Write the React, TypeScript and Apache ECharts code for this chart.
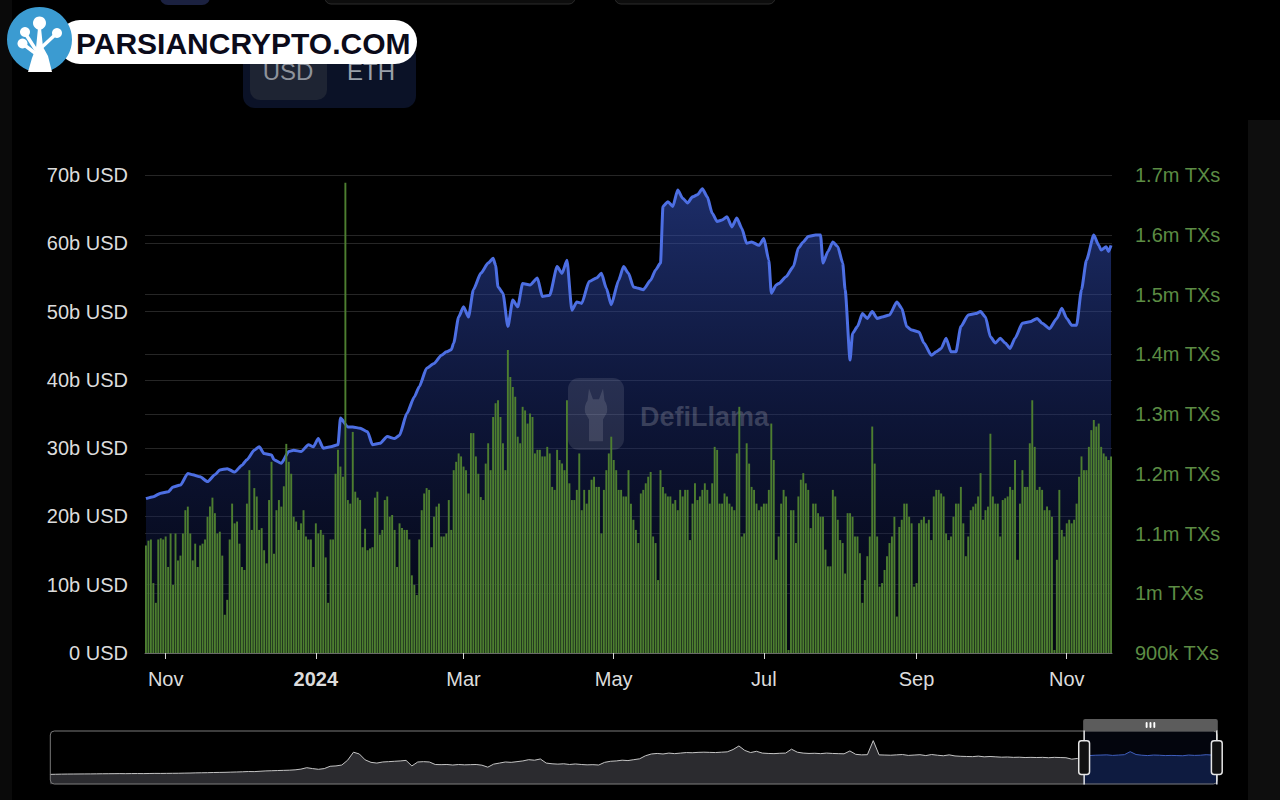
import React, { useEffect, useRef } from 'react';
import * as echarts from 'echarts';

// ---------- DATA ----------
// Daily Ethereum transactions (thousands), starting 2023-10-24, one per day
const txStart = [2023, 9, 24];
const txDailyK = [
  1080,1088,1090,1017,984,1090,1092,1090,1095,1044,
  1100,1014,1100,1055,1063,1100,1139,1145,1100,1055,
  1083,1044,1080,1083,1090,1128,1145,1160,1134,1100,
  1103,1063,964,989,1090,1150,1117,1120,1083,1044,
  1039,1150,1206,1106,1176,1162,1106,1109,1072,1050,
  1156,1220,1066,1139,1156,1145,1179,1250,1220,1200,
  1128,1120,1106,1117,1139,1095,1090,1090,1044,1117,
  1100,1106,1098,1060,984,1090,1090,1200,1240,1212,
  1195,1687,1156,1150,1270,1170,1160,1156,1077,1108,
  1072,1075,1077,1160,1170,1098,1106,1156,1162,1128,
  1131,1106,1044,1117,1109,1106,1106,1090,1030,1014,
  997,1090,1139,1167,1176,1173,1077,1128,1145,1150,
  1095,1095,1100,1156,1106,1206,1220,1234,1229,1212,
  1206,1167,1268,1268,1229,1200,1161,1156,1217,1251,
  1206,1295,1318,1323,1295,1251,1206,1407,1362,1345,
  1329,1262,1251,1312,1306,1284,1301,1295,1234,1240,
  1240,1229,1229,1245,1234,1178,1173,1240,1223,1217,
  1206,1323,1184,1156,1156,1173,1234,1139,1173,1150,
  1173,1190,1195,1178,1178,1100,1173,1206,1234,1262,
  1223,1206,1173,1173,1162,1162,1206,1150,1123,1106,
  1084,1167,1173,1184,1195,1203,1095,1084,1022,1206,
  1178,1167,1162,1162,1150,1156,1139,1173,1162,1173,
  1173,1089,1150,1184,1156,1162,1173,1184,1173,1150,
  1184,1245,1240,1150,1150,1167,1162,1150,1145,1139,
  1234,1312,1095,1100,1251,1217,1178,1173,1150,1139,
  1145,1150,1150,1173,1284,1223,1056,1095,1150,1173,
  1162,905,1139,1139,1084,1162,1190,1201,1184,1173,
  1109,1150,1150,1134,1128,1128,1073,1045,1045,1173,
  1162,1123,1089,1084,1033,1134,1134,1128,1095,1095,
  1067,984,1022,1062,1095,1279,1217,1095,1011,1017,
  1039,1062,1084,1095,1128,961,1111,1123,1150,1150,
  1128,1117,1011,1017,1117,1123,1128,1117,1123,1089,
  1162,1173,1173,1167,1162,1100,1089,1095,1128,1150,
  1150,1178,1117,1062,1095,1139,1145,1150,1162,1201,
  1123,1139,1145,1267,1162,1150,1150,1095,1156,1159,
  1162,1178,1173,1223,1056,1150,1206,1178,1178,1251,
  1323,1245,1173,1178,1173,1139,1145,1139,1128,905,
  1056,1173,1106,1095,1117,1123,1117,1123,1150,1195,
  1229,1206,1206,1245,1273,1290,1279,1284,1245,1234,
  1229,1223,1229
];

// TVL (billions USD) at day offsets from 2023-10-24
const tvlDayOffsets = [
  0,3,6,9,11,14,17,19,22,25,28,30,33,36,39,41,44,46,48,51,52,55,58,60,63,66,68,70,72,75,78,79,82,84,87,90,92,95,98,101,
  103,106,109,111,114,117,120,122,124,125,127,129,131,133,136,139,141,142,143,145,147,149,151,153,156,159,161,164,167,169,
  171,173,175,177,180,183,185,187,189,192,194,196,198,200,202,205,207,209,210,212,214,216,218,220,222,224,226,228,230,232,
  234,236,238,240,242,244,246,249,251,253,254,256,257,260,263,265,267,269,272,274,275,277,279,281,283,284,286,287,289,291,
  293,295,297,299,302,305,307,309,311,314,316,319,321,323,325,327,329,331,334,337,339,341,343,345,347,349,351,353,356,359,
  362,364,367,370,372,374,376,378,380,382,385,387,388,390,391,392
];
const tvlValuesB = [
  22.6,22.9,23.4,23.6,24.3,24.6,26.3,26.1,25.8,25.1,26.1,26.8,27.0,26.5,27.5,28.3,29.7,30.2,29.2,29.0,28.3,27.8,29.5,29.7,29.5,30.5,30.2,31.4,30.0,30.2,30.5,34.4,33.1,33.1,32.9,32.4,30.5,30.7,31.7,31.4,
  31.9,35.1,37.5,39.0,41.7,42.4,43.6,44.1,44.4,45.4,49.2,50.7,49.2,53.2,55.6,57.1,57.8,56.8,53.6,52.7,47.8,51.7,50.7,54.1,53.9,54.9,52.2,52.4,56.6,55.6,
  57.5,50.2,51.4,51.2,54.4,54.9,55.6,53.4,51.0,54.6,56.6,55.6,53.6,53.4,53.2,54.6,56.1,57.1,65.4,66.1,65.4,67.8,66.6,65.9,66.8,67.1,68.0,66.8,64.4,63.2,
  63.4,63.9,62.4,63.7,62.2,60.0,60.2,59.7,60.7,57.5,52.7,53.9,54.1,55.1,56.6,59.3,60.2,61.0,61.2,61.2,57.1,58.8,60.2,59.5,57.1,53.2,42.9,46.8,47.8,49.7,
  49.0,50.0,49.0,49.2,49.5,51.4,50.5,47.8,47.3,47.0,45.4,43.6,44.1,44.6,46.1,44.1,44.1,47.8,49.5,49.7,50.0,49.2,46.3,45.4,46.1,45.4,44.6,46.1,48.3,48.5,
  49.0,48.3,47.5,49.0,50.5,49.0,48.0,48.0,53.2,57.5,61.2,59.7,59.0,59.5,58.8,59.7
];

// Full transaction history (thousands), every 17 days from 2015-07-30 (slider overview)
const historyStart = [2015, 6, 30];
const historyStepDays = 17;
const historyTxK = [
  5,12,18,22,25,27,30,32,35,40,42,45,48,45,50,52,48,55,60,58,62,65,68,75,
  80,90,95,100,110,115,120,130,140,150,165,160,180,200,210,220,230,240,260,300,380,330,290,330,460,480,530,
  800,1250,1150,820,680,640,700,720,740,760,790,
  480,700,720,700,560,550,560,530,560,540,550,560,520,410,580,640,700,680,720,760,830,800,870,640,600,580,600,560,590,560,540,550,530,
  680,740,760,800,780,830,880,1050,1150,1180,1150,1200,1170,1200,1230,1220,1240,1250,1240,1230,1250,1270,
  1400,1600,1350,1230,1300,1200,1180,1170,1190,1200,1420,1250,1200,1180,1190,1170,1200,1180,1170,1160,1320,1130,1100,1110,
  1900,1100,1090,1080,1100,1120,1070,1090,1110,1060,1120,1080,1050,1100,1040,1020,1010,1000,1030,990,1010,990,970,980,960,970,950,960,950,960,940,960,950,940,860,900,
  1050,1060,1080,1090,1100,1070,1090,1110,1280,1120,1080,1060,1090,1080,1060,1070,1060,1050,1090,1070,1080,1110,1090,1100
];

const usdTicks = { min: 0, max: 70e9, interval: 10e9 };
const txTicks = { min: 900000, max: 1700000, interval: 100000 };

// ---------- HELPERS ----------
const dayTs = (base: number[], offset: number) =>
  new Date(base[0], base[1], base[2] + offset).getTime();

const fmtUsd = (v: number) => (v === 0 ? '0 USD' : `${+(v / 1e9).toFixed(2)}b USD`);
const fmtTx = (v: number) =>
  v >= 1e6 ? `${+(v / 1e6).toFixed(2)}m TXs` : `${+(v / 1e3).toFixed(0)}k TXs`;

echarts.graphic.registerShape(
  'llama',
  echarts.graphic.extendPath(
    'M8 2 L12 11 L18 11 L22 2 L23.5 12 Q27 16 26 22 L22 28 L22 46 L8 46 L8 28 L4 22 Q3 16 6.5 12 Z',
    {}
  )
);

const FONT = '"Liberation Sans", Arial, Helvetica, sans-serif';

export default function App() {
  const ref = useRef<HTMLDivElement>(null);

  useEffect(() => {
    if (!ref.current) return;
    const chart = echarts.init(ref.current, undefined, { renderer: 'svg' });

    const txData = txDailyK.map((v, i) => [dayTs(txStart, i), v * 1000]);
    const tvlData = tvlDayOffsets.map((d, i) => [dayTs(txStart, d), tvlValuesB[i] * 1e9]);
    const historyData = historyTxK.map((v, i) => [dayTs(historyStart, i * historyStepDays), v * 1000]);
    const startTs = dayTs(txStart, 0);
    const endTs = dayTs(txStart, txDailyK.length - 1);

    const option: any = {
      animation: false,
      backgroundColor: '#000',
      textStyle: { fontFamily: FONT },
      grid: { left: 145, right: 168, top: 175, bottom: 147, outerBoundsMode: 'none' },
      xAxis: {
        type: 'time',
        axisLine: { show: true, lineStyle: { color: '#6a6a6a', width: 1 } },
        axisTick: { show: true, length: 6, lineStyle: { color: '#d8d8d8' } },
        axisLabel: { color: '#dcdcdc', fontSize: 20, margin: 16, fontFamily: FONT },
        splitLine: { show: false },
      },
      yAxis: [
        {
          type: 'value',
          position: 'left',
          min: usdTicks.min,
          max: usdTicks.max,
          interval: usdTicks.interval,
          axisLine: { show: false },
          axisTick: { show: false },
          axisLabel: { formatter: fmtUsd, color: '#dcdcdc', fontSize: 20, margin: 17, fontFamily: FONT },
          splitLine: { lineStyle: { color: '#262626', width: 1 } },
        },
        {
          type: 'value',
          position: 'right',
          min: txTicks.min,
          max: txTicks.max,
          interval: txTicks.interval,
          axisLine: { show: false },
          axisTick: { show: false },
          axisLabel: { formatter: fmtTx, color: '#5c8c44', fontSize: 20, margin: 23, fontFamily: FONT },
          splitLine: { lineStyle: { color: '#262626', width: 1 } },
        },
        { type: 'value', show: false, min: 0 },
      ],
      dataZoom: [
        {
          type: 'slider',
          xAxisIndex: 0,
          filterMode: 'filter',
          startValue: startTs,
          endValue: endTs,
          left: 45,
          right: 67,
          top: 719,
          height: 54,
          backgroundColor: 'rgba(0,0,0,0)',
          borderColor: '#7a7a7a',
          borderRadius: 4,
          fillerColor: 'rgba(40,70,160,0.08)',
          showDetail: false,
          dataBackground: {
            lineStyle: { color: '#c4c4c4', width: 1, opacity: 1 },
            areaStyle: { color: '#2b2b2f', opacity: 1 },
          },
          selectedDataBackground: {
            lineStyle: { color: '#4262c0', width: 1, opacity: 1 },
            areaStyle: { color: '#0c1838', opacity: 1 },
          },
          handleIcon:
            'path://M-9.35,34.56V42m0-40V9.5m-2,0h4a2,2,0,0,1,2,2v21a2,2,0,0,1-2,2h-4a2,2,0,0,1-2-2v-21A2,2,0,0,1-11.35,9.5Z',
          handleSize: '100%',
          handleStyle: { color: '#111', borderColor: '#e6e6e6', borderWidth: 1.5 },
          moveHandleSize: 12,
          moveHandleStyle: { color: '#5c5c5c', opacity: 1 },
          emphasis: {
            handleStyle: { color: '#111', borderColor: '#e6e6e6' },
            moveHandleStyle: { color: '#5c5c5c', opacity: 1 },
          },
        },
      ],
      series: [
        {
          name: 'history',
          type: 'line',
          xAxisIndex: 0,
          yAxisIndex: 2,
          data: historyData,
          symbol: 'none',
          showSymbol: false,
          lineStyle: { opacity: 0, width: 0 },
          silent: true,
          z: 0,
        },
        {
          name: 'TVL',
          type: 'line',
          yAxisIndex: 0,
          data: tvlData,
          smooth: 0.2,
          smoothMonotone: 'x',
          symbol: 'none',
          showSymbol: false,
          lineStyle: { color: '#4d6fe3', width: 3 },
          areaStyle: {
            color: new echarts.graphic.LinearGradient(0, 0, 0, 1, [
              { offset: 0, color: 'rgba(52,82,190,0.78)' },
              { offset: 0.5, color: 'rgba(30,48,125,0.62)' },
              { offset: 1, color: 'rgba(10,16,48,0.55)' },
            ]),
          },
          z: 2,
        },
        {
          name: 'TXs',
          type: 'bar',
          yAxisIndex: 1,
          data: txData,
          barWidth: '78%',
          itemStyle: { color: '#4d7e30' },
          z: 4,
        },
      ],
      graphic: {
        elements: [
          // side strips
          { type: 'rect', shape: { x: 0, y: 0, width: 12, height: 800 }, style: { fill: '#0a0a0a' }, z: 0, silent: true },
          { type: 'rect', shape: { x: 1248, y: 120, width: 32, height: 680 }, style: { fill: '#0e0e0e' }, z: 0, silent: true },
          // top partial controls
          { type: 'rect', shape: { x: 160, y: -30, width: 50, height: 35, r: 8 }, style: { fill: '#1b2140' }, z: 50, silent: true },
          { type: 'rect', shape: { x: 325, y: -30, width: 250, height: 34, r: 6 }, style: { fill: '#0d0d0d', stroke: '#2c2c2c', lineWidth: 1 }, z: 50, silent: true },
          { type: 'rect', shape: { x: 615, y: -30, width: 160, height: 34, r: 6 }, style: { fill: '#0d0d0d', stroke: '#2c2c2c', lineWidth: 1 }, z: 50, silent: true },
          // USD / ETH toggle
          { type: 'rect', shape: { x: 243, y: 44, width: 173, height: 64, r: 12 }, style: { fill: '#0b1227' }, z: 50, silent: true },
          { type: 'rect', shape: { x: 250, y: 52, width: 77, height: 48, r: 10 }, style: { fill: '#1e2433' }, z: 51, silent: true },
          { type: 'text', x: 288, y: 71, style: { text: 'USD', fill: '#8e939c', font: `24px ${FONT}`, align: 'center', verticalAlign: 'middle' }, z: 52, silent: true },
          { type: 'text', x: 371, y: 71, style: { text: 'ETH', fill: '#9aa0aa', font: `24px ${FONT}`, align: 'center', verticalAlign: 'middle' }, z: 52, silent: true },
          // PARSIANCRYPTO pill
          { type: 'rect', shape: { x: 58, y: 20, width: 359, height: 44, r: 22 }, style: { fill: '#ffffff' }, z: 60, silent: true },
          { type: 'text', x: 76, y: 43, style: { text: 'PARSIANCRYPTO.COM', fill: '#0b0b1a', font: `bold 30px ${FONT}`, align: 'left', verticalAlign: 'middle' }, z: 61, silent: true },
          { type: 'circle', shape: { cx: 39.5, cy: 39.5, r: 32.5 }, style: { fill: '#3b9bd1' }, z: 62, silent: true },
          { type: 'polygon', shape: { points: [[28, 72], [32, 58], [36, 48], [38, 28], [41, 28], [43, 47], [48, 56], [52, 72]] }, style: { fill: '#ffffff' }, z: 63, silent: true },
          { type: 'line', shape: { x1: 36, y1: 50, x2: 25, y2: 33 }, style: { stroke: '#ffffff', lineWidth: 3.5 }, z: 63, silent: true },
          { type: 'line', shape: { x1: 35, y1: 53, x2: 23, y2: 44 }, style: { stroke: '#ffffff', lineWidth: 3.5 }, z: 63, silent: true },
          { type: 'line', shape: { x1: 42, y1: 47, x2: 57, y2: 33 }, style: { stroke: '#ffffff', lineWidth: 3.5 }, z: 63, silent: true },
          { type: 'circle', shape: { cx: 39.5, cy: 23, r: 6.5 }, style: { fill: '#ffffff' }, z: 63, silent: true },
          { type: 'circle', shape: { cx: 25, cy: 32, r: 5 }, style: { fill: '#ffffff' }, z: 63, silent: true },
          { type: 'circle', shape: { cx: 57, cy: 33, r: 5 }, style: { fill: '#ffffff' }, z: 63, silent: true },
          { type: 'circle', shape: { cx: 22.5, cy: 43.5, r: 5 }, style: { fill: '#ffffff' }, z: 63, silent: true },
          // DefiLlama watermark
          { type: 'rect', shape: { x: 568, y: 378, width: 56, height: 72, r: 11 }, style: { fill: 'rgba(255,255,255,0.10)' }, z: 3, silent: true },
          { type: 'llama', x: 581, y: 386, scaleX: 1, scaleY: 1.2, style: { fill: 'rgba(255,255,255,0.12)' }, z: 3, silent: true },
          { type: 'text', x: 640, y: 417, style: { text: 'DefiLlama', fill: 'rgba(255,255,255,0.19)', font: `bold 27px ${FONT}`, align: 'left', verticalAlign: 'middle' }, z: 3, silent: true },
        ],
      },
    };

    chart.setOption(option);
    return () => chart.dispose();
  }, []);

  return (
    <div
      ref={ref}
      style={{ position: 'fixed', left: 0, top: 0, width: 1280, height: 800, background: '#000' }}
    />
  );
}
